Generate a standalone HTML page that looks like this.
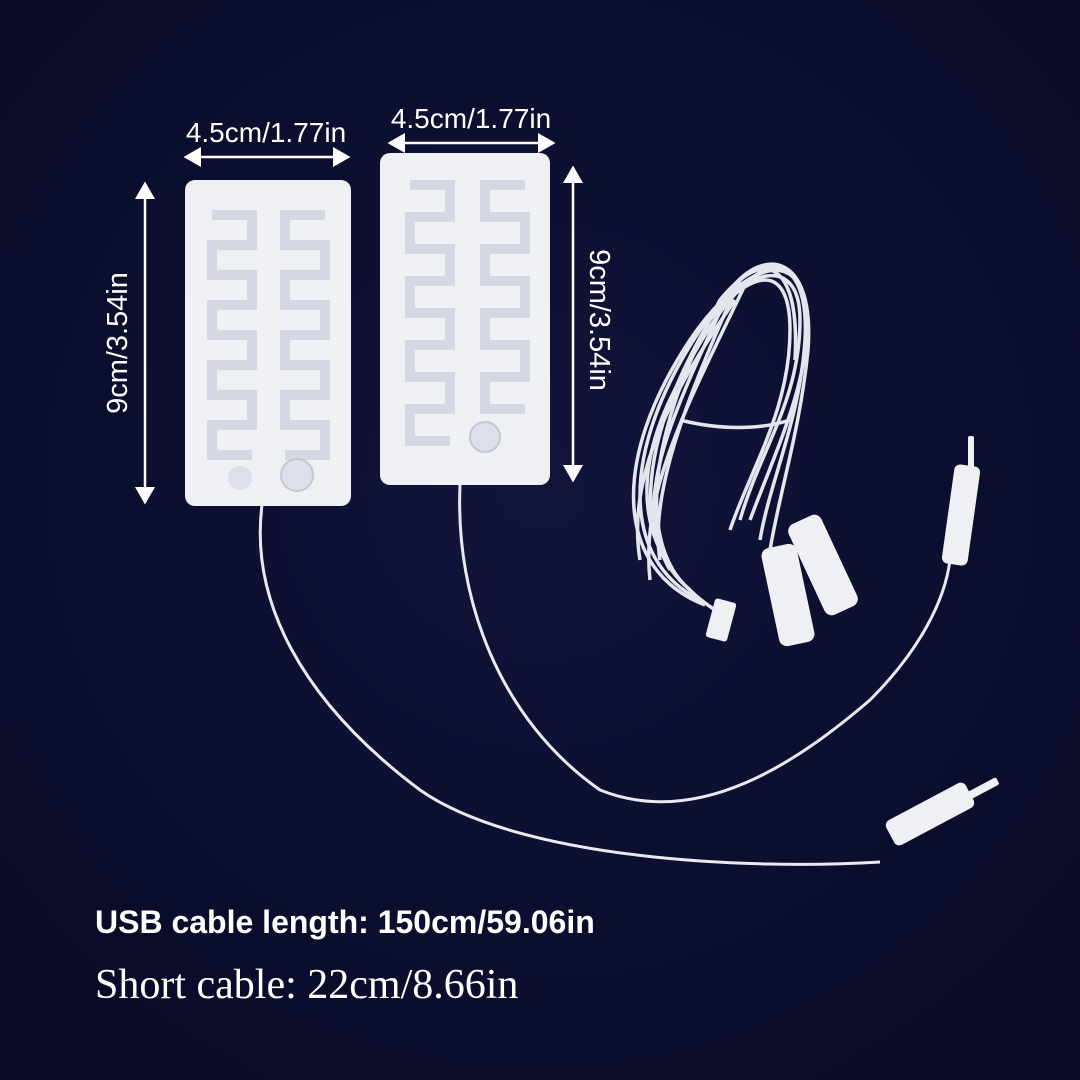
<!DOCTYPE html>
<html><head><meta charset="utf-8"><style>
html,body{margin:0;padding:0;background:#0a0c2c;}
svg{display:block}
</style></head><body>
<svg width="1080" height="1080" viewBox="0 0 1080 1080" xmlns="http://www.w3.org/2000/svg">
<defs>
<radialGradient id="bg" cx="50%" cy="45%" r="70%"><stop offset="0" stop-color="#12143a"/><stop offset="1" stop-color="#080a26"/></radialGradient>
<marker id="ah" markerWidth="8" markerHeight="8" refX="6" refY="4" orient="auto-start-reverse"><path d="M0,0 L7,4 L0,8 z" fill="#fff"/></marker>
</defs>
<rect width="1080" height="1080" fill="url(#bg)"/>
<rect x="185" y="180" width="166" height="326" rx="10" fill="#eef0f4"/>
<rect x="380" y="153" width="170" height="332" rx="10" fill="#eef0f4"/>
<g fill="none" stroke="#d4d8e2" stroke-width="10">
<path d="M212,215 h40 v30 h-40 v30 h40 v30 h-40 v30 h40 v30 h-40 v30 h40 v30 h-40 v30 h40"/>
<path d="M325,215 h-40 v30 h40 v30 h-40 v30 h40 v30 h-40 v30 h40 v30 h-40 v30 h40 v30 h-40"/>
<path d="M410,185 h40 v32 h-40 v32 h40 v32 h-40 v32 h40 v32 h-40 v32 h40 v32 h-40 v32 h40"/>
<path d="M525,185 h-40 v32 h40 v32 h-40 v32 h40 v32 h-40 v32 h40 v32 h-40 v32 h40"/>
</g>
<circle cx="297" cy="475" r="16" fill="#dde0e8" stroke="#c4c8d2" stroke-width="2"/>
<circle cx="240" cy="478" r="12" fill="#dde0e8"/>
<circle cx="485" cy="437" r="15" fill="#dde0e8" stroke="#c4c8d2" stroke-width="2"/>
<g fill="none" stroke="#e8eaf0" stroke-width="3">
<path d="M262,505 C250,600 300,700 420,790 C520,860 750,870 880,862"/>
<path d="M460,485 C455,600 500,720 600,790 C700,830 800,760 870,700 C920,650 945,600 950,560"/>
</g>
<g fill="#eef0f4">
<rect x="948" y="465" width="26" height="100" rx="6" transform="rotate(8 961 515)"/>
<rect x="968" y="436" width="6" height="32" rx="2"/>
<rect x="885" y="800" width="90" height="28" rx="6" transform="rotate(-28 930 814)"/>
<rect x="960" y="786" width="40" height="8" rx="2" transform="rotate(-28 980 790)"/>
<rect x="770" y="545" width="36" height="100" rx="8" transform="rotate(-12 788 595)"/>
<rect x="805" y="515" width="36" height="100" rx="8" transform="rotate(-25 823 565)"/>
<rect x="710" y="600" width="22" height="40" rx="3" transform="rotate(15 721 620)"/>
</g>
<g fill="none" stroke="#e4e6ee" stroke-width="3.5">
<path d="M700,600 C620,560 620,450 700,330 C740,270 800,250 800,320 C800,400 760,450 740,520"/>
<path d="M690,590 C630,540 640,440 710,320 C750,270 790,260 790,330 C790,410 750,470 730,530"/>
<path d="M680,580 C640,530 650,430 720,300 C760,250 810,250 805,340 C800,420 770,480 760,540"/>
<path d="M670,570 C630,500 670,420 730,290 C765,245 815,255 808,350 C800,430 780,490 770,550"/>
<path d="M660,560 C650,500 680,410 740,280 C770,255 800,270 795,360"/>
<path d="M650,580 C640,490 690,400 745,285"/>
<path d="M705,605 C615,570 610,460 690,340 C730,280 790,240 805,300 C815,370 780,440 750,520"/>
<path d="M640,560 C625,470 680,380 735,300"/>
<path d="M715,610 C640,560 625,480 680,380 C720,300 760,260 780,270"/>
<path d="M680,420 C720,430 760,430 790,420"/>
</g>
<g stroke="#fff" stroke-width="2.5" marker-start="url(#ah)" marker-end="url(#ah)">
<line x1="186" y1="157" x2="348" y2="157"/>
<line x1="390" y1="143" x2="553" y2="143"/>
<line x1="145" y1="184" x2="145" y2="502"/>
<line x1="573" y1="168" x2="573" y2="480"/>
</g>
<g fill="#fff" font-family="Liberation Sans, sans-serif" font-size="28">
<text x="266" y="142" text-anchor="middle">4.5cm/1.77in</text>
<text x="471" y="128" text-anchor="middle">4.5cm/1.77in</text>
<text transform="translate(127,343) rotate(-90)" text-anchor="middle" font-size="29">9cm/3.54in</text>
<text transform="translate(590,320) rotate(90)" text-anchor="middle" font-size="29">9cm/3.54in</text>
</g>
<text x="95" y="933" fill="#fff" font-family="Liberation Sans, sans-serif" font-size="32" font-weight="bold">USB cable length: 150cm/59.06in</text>
<text x="95" y="998" fill="#fff" font-family="Liberation Serif, serif" font-size="42">Short cable: 22cm/8.66in</text>
</svg>
</body></html>
